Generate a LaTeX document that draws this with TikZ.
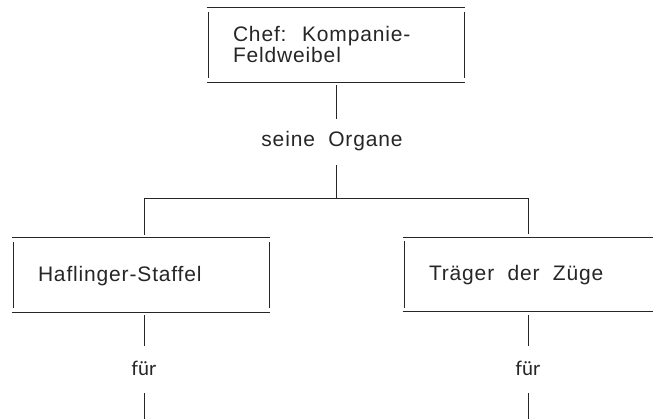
\documentclass[tikz,border=0pt]{standalone}
\usepackage{fontspec}
\setmainfont{Liberation Sans}
\newfontfamily\grotesk[LetterSpace=4, WordSpace=2]{Liberation Sans}
\newfontfamily\fuerschrift{Carlito}
\usetikzlibrary{calc}

\newcommand{\orgschrift}{\grotesk\fontsize{21}{21}\selectfont}
% Rahmen: Linien oben und unten durchgehend, Seiten etwas kuerzer
\newcommand{\rahmen}[1]{%
  \draw (#1.north west) -- (#1.north east);
  \draw (#1.south west) -- (#1.south east);
  \draw ([xshift=1.5pt,yshift=-4pt]#1.north west) -- ([xshift=1.5pt,yshift=4pt]#1.south west);
  \draw ([xshift=-1.5pt,yshift=-4pt]#1.north east) -- ([xshift=-1.5pt,yshift=4pt]#1.south east);
}

\tikzset{
  orgbox/.style={minimum width=258pt, minimum height=74pt, inner sep=0pt},
  orgtext/.style={inner sep=0pt, align=left, font=\orgschrift},
  zwischen/.style={anchor=base, text height=15pt, text depth=5pt, inner ysep=13pt,
    inner xsep=0pt, font=\orgschrift},
  fuer/.style={anchor=base, text height=15pt, text depth=3pt, inner ysep=14pt,
    inner xsep=0pt, font=\fuerschrift\fontsize{21}{24}\selectfont}
}

\begin{document}
\begin{tikzpicture}[x=1pt, y=-1pt, line width=0.9pt, color=black!85]
  \clip (0,0) rectangle (653,419);

  \node[orgbox] (chef)      at (336,45)    {};
  \node[orgbox] (haflinger) at (141,275)   {};
  \node[orgbox] (traeger)   at (532,274.5) {};
  \rahmen{chef}
  \rahmen{haflinger}
  \rahmen{traeger}

  \node[orgtext, anchor=west] (cheftext) at ([xshift=26pt,yshift=1pt]chef.west)
    {Chef: Kompanie-\\Feldweibel};
  \node[orgtext, anchor=base west] (hafltext) at ([xshift=26pt,yshift=-6.5pt]haflinger.west)
    {Haflinger-Staffel};
  \node[orgtext, anchor=base west] (traegtext) at ([xshift=26pt,yshift=-6pt]traeger.west)
    {Träger der Züge};

  \node[zwischen] (organe) at (332,147) {seine Organe};
  \node[fuer] (hfuer) at (144,375.5) {für};
  \node[fuer] (tfuer) at (528,375.5) {für};

  \coordinate (ast)    at (336,198.5);
  \coordinate (hunten) at (144,430);
  \coordinate (tunten) at (528,430);

  \draw[shorten <=3pt] (chef.south) -- (chef.south |- organe.north);
  \draw (chef.south |- organe.south) -- (ast);
  \draw (ast -| hfuer) -- (ast -| tfuer);
  \draw[shorten >=3pt] (ast -| hfuer) -- (hfuer |- haflinger.north);
  \draw[shorten >=3pt] (ast -| tfuer) -- (tfuer |- traeger.north);

  \draw[shorten <=3pt] (hfuer |- haflinger.south) -- (hfuer.north);
  \draw (hfuer.south) -- (hunten);
  \draw[shorten <=3pt] (tfuer |- traeger.south) -- (tfuer.north);
  \draw (tfuer.south) -- (tunten);
\end{tikzpicture}
\end{document}
